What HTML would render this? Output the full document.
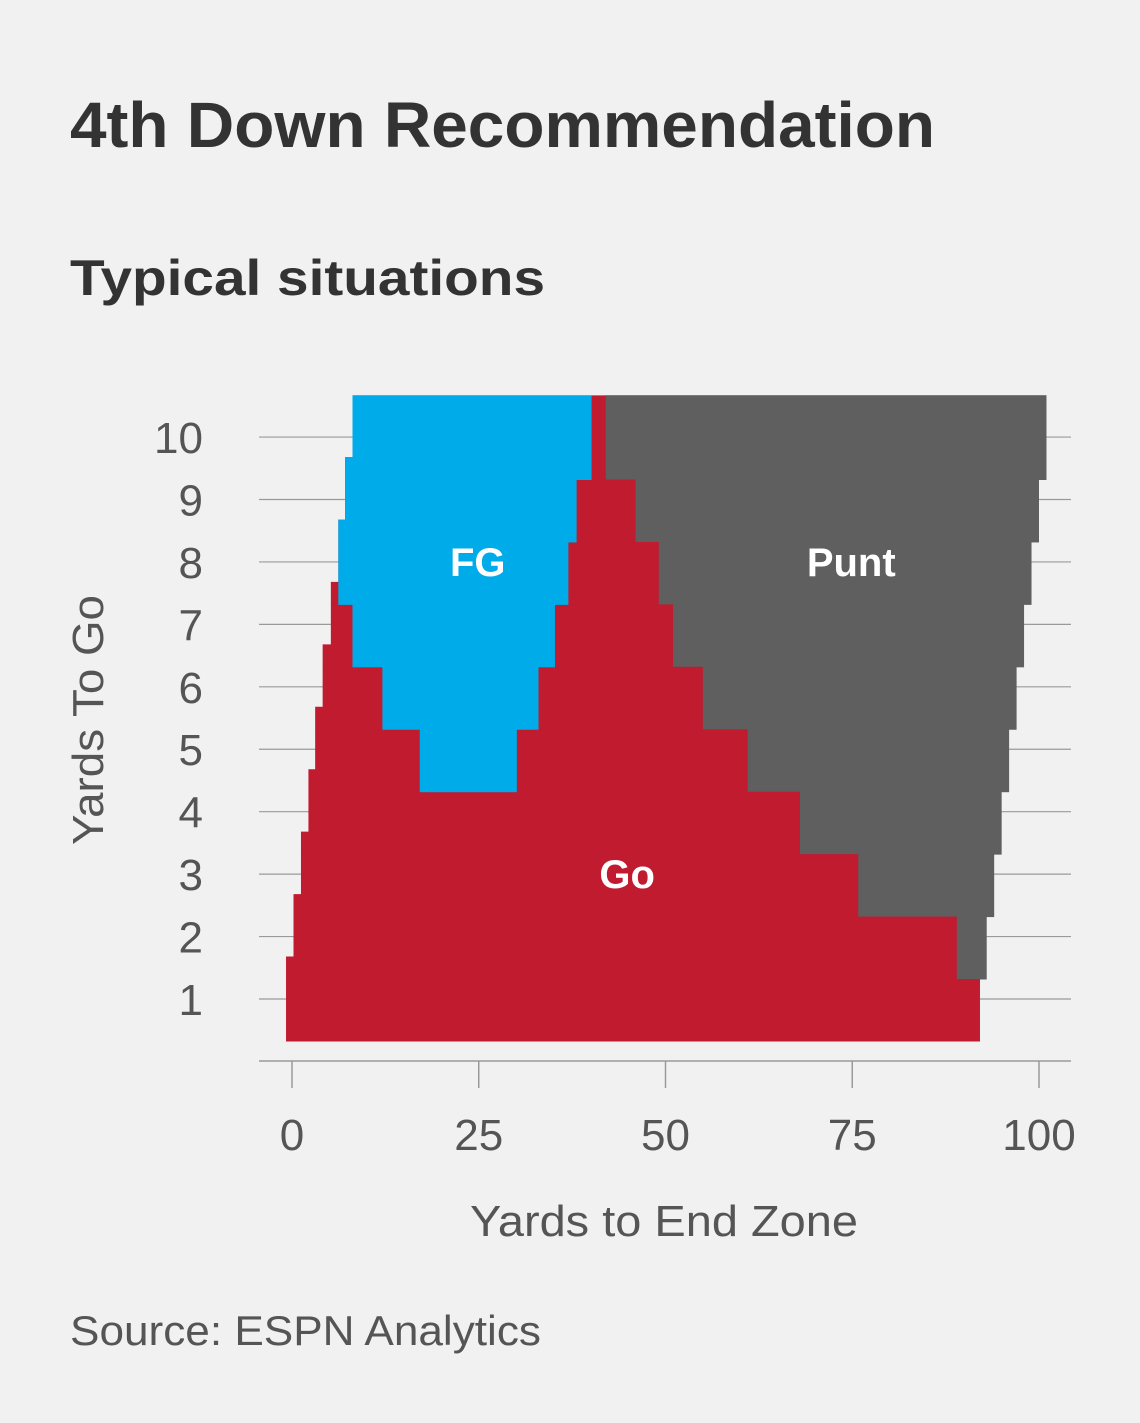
<!DOCTYPE html>
<html><head><meta charset="utf-8">
<style>
html,body{margin:0;padding:0;background:#f1f1f1;}
svg{display:block;}
text{font-family:"Liberation Sans","DejaVu Sans",sans-serif;}
</style></head>
<body>
<svg id="chart" width="1140" height="1423" viewBox="0 0 1140 1423" xmlns="http://www.w3.org/2000/svg">
<rect x="0" y="0" width="1140" height="1423" fill="#f1f1f1"/>
<text x="70" y="147" font-size="64" font-weight="bold" fill="#333" textLength="865" lengthAdjust="spacingAndGlyphs">4th Down Recommendation</text>
<text x="70" y="295" font-size="50" font-weight="bold" fill="#333" textLength="475" lengthAdjust="spacingAndGlyphs">Typical situations</text>
<g id="grid"></g>
<defs>
<clipPath id="goClip"></clipPath>
<clipPath id="fgClip"></clipPath>
</defs>
<g id="marks"></g>
<g id="axes"></g>
<text x="664" y="1236" font-size="44" fill="#555" text-anchor="middle" textLength="388" lengthAdjust="spacingAndGlyphs">Yards to End Zone</text>
<text transform="translate(103,720) rotate(-90)" font-size="44" fill="#555" text-anchor="middle" textLength="250" lengthAdjust="spacingAndGlyphs">Yards To Go</text>
<text x="70" y="1345" font-size="42" fill="#555" textLength="471" lengthAdjust="spacingAndGlyphs">Source: ESPN Analytics</text>
</svg>
<script>
// Data (yards)
const rows = [1,2,3,4,5,6,7,8,9,10];
const goLeft  = [-0.8,0.2,1.2,2.2,3.1,4.1,5.2,6.2,7.1,8.1];   // outer left edge of Go
const fgLeft  = [6.2,6.2,6.2,6.2,6.2,6.2,6.2,6.2,7.1,8.1];    // outer left edge of FG
const fgStart = [null,null,null,null,17.1,12.1,8.1,-5,-5,-5];
const fgEnd   = [null,null,null,null,30.1,33.0,35.2,37.0,38.1,40.1];
const goEnd   = [92.1,89.0,75.8,68.0,61.0,55.0,51.0,49.1,46.0,42.0];
const puntEnd = [null,93.0,94.0,95.0,96.0,97.0,98.0,99.0,100.0,101.0];
const xTicks = [0,25,50,75,100];
const yTicks = [1,2,3,4,5,6,7,8,9,10];
const labels = [{t:"FG",x:25,y:8},{t:"Go",x:45,y:3},{t:"Punt",x:75,y:8}];

const NS="http://www.w3.org/2000/svg";
const xs = v => 292 + v*7.47;
const ys = v => 999 - (v-1)*62.44;
function mk(tag, attrs, parent){const e=document.createElementNS(NS,tag);for(const k in attrs)e.setAttribute(k,attrs[k]);parent.appendChild(e);return e;}
const grid=document.getElementById('grid'), marks=document.getElementById('marks'), axes=document.getElementById('axes');
const goClip=document.getElementById('goClip'), fgClip=document.getElementById('fgClip');
const TOP=10.67, BOT=0.327;
const innerLo = k => k===1?BOT:k-0.68;
const innerHi = k => k===10?TOP:k+0.32;
const leftLo = k => k===1?BOT:k-0.32;
const leftHi = k => k===10?TOP:k+0.68;

yTicks.forEach(v=>{
  const l=mk('line',{x1:259,x2:1071,y1:ys(v),y2:ys(v),stroke:'#9a9a9a','stroke-width':1.2},grid);
  
  
  const t=mk('text',{x:203,y:ys(v)+16,'font-size':44,fill:'#555','text-anchor':'end'},axes);
  t.textContent=v;
  
  
});
rows.forEach((k,i)=>{
  mk('rect',{x:xs(goLeft[i]),y:ys(leftHi(k)),width:1000,height:ys(leftLo(k))-ys(leftHi(k))+0.5},goClip);
  mk('rect',{x:xs(fgLeft[i]),y:ys(leftHi(k)),width:1000,height:ys(leftLo(k))-ys(leftHi(k))+0.5},fgClip);
});
const gGray=mk('g',{},marks);


const gRed=mk('g',{'clip-path':'url(#goClip)'},marks);


const gBlue=mk('g',{'clip-path':'url(#fgClip)'},marks);


rows.forEach((k,i)=>{
  const y0=ys(innerHi(k)), h=ys(innerLo(k))-ys(innerHi(k))+0.5;
  if(puntEnd[i]!==null){
    const r=mk('rect',{x:xs(goEnd[i])-0.5,y:y0,width:xs(puntEnd[i])-xs(goEnd[i])+0.5,height:h,fill:'#5f5f5f'},gGray);
    
    
  }
  const r2=mk('rect',{x:xs(-5),y:y0,width:xs(goEnd[i])-xs(-5),height:h,fill:'#c11b30'},gRed);
  
  
  if(fgEnd[i]!==null){
    const r3=mk('rect',{x:xs(fgStart[i]),y:y0,width:xs(fgEnd[i])-xs(fgStart[i]),height:h,fill:'#00abe9'},gBlue);
    
    
  }
});
labels.forEach(d=>{
  const t=mk('text',{x:xs(d.x)-1,y:ys(d.y)+14,'font-size':40,'font-weight':'bold',fill:'#fff','text-anchor':'middle'},marks);
  t.textContent=d.t;
  
  
});
const ax=mk('line',{x1:259,x2:1071,y1:1061,y2:1061,stroke:'#9a9a9a','stroke-width':1.5},axes);


xTicks.forEach(v=>{
  const l=mk('line',{x1:xs(v),x2:xs(v),y1:1061,y2:1088,stroke:'#9a9a9a','stroke-width':1.5},axes);
  
  
  const t=mk('text',{x:xs(v),y:1150,'font-size':44,fill:'#555','text-anchor':'middle'},axes);
  t.textContent=v;
  
  
});
</script>
</body></html>
